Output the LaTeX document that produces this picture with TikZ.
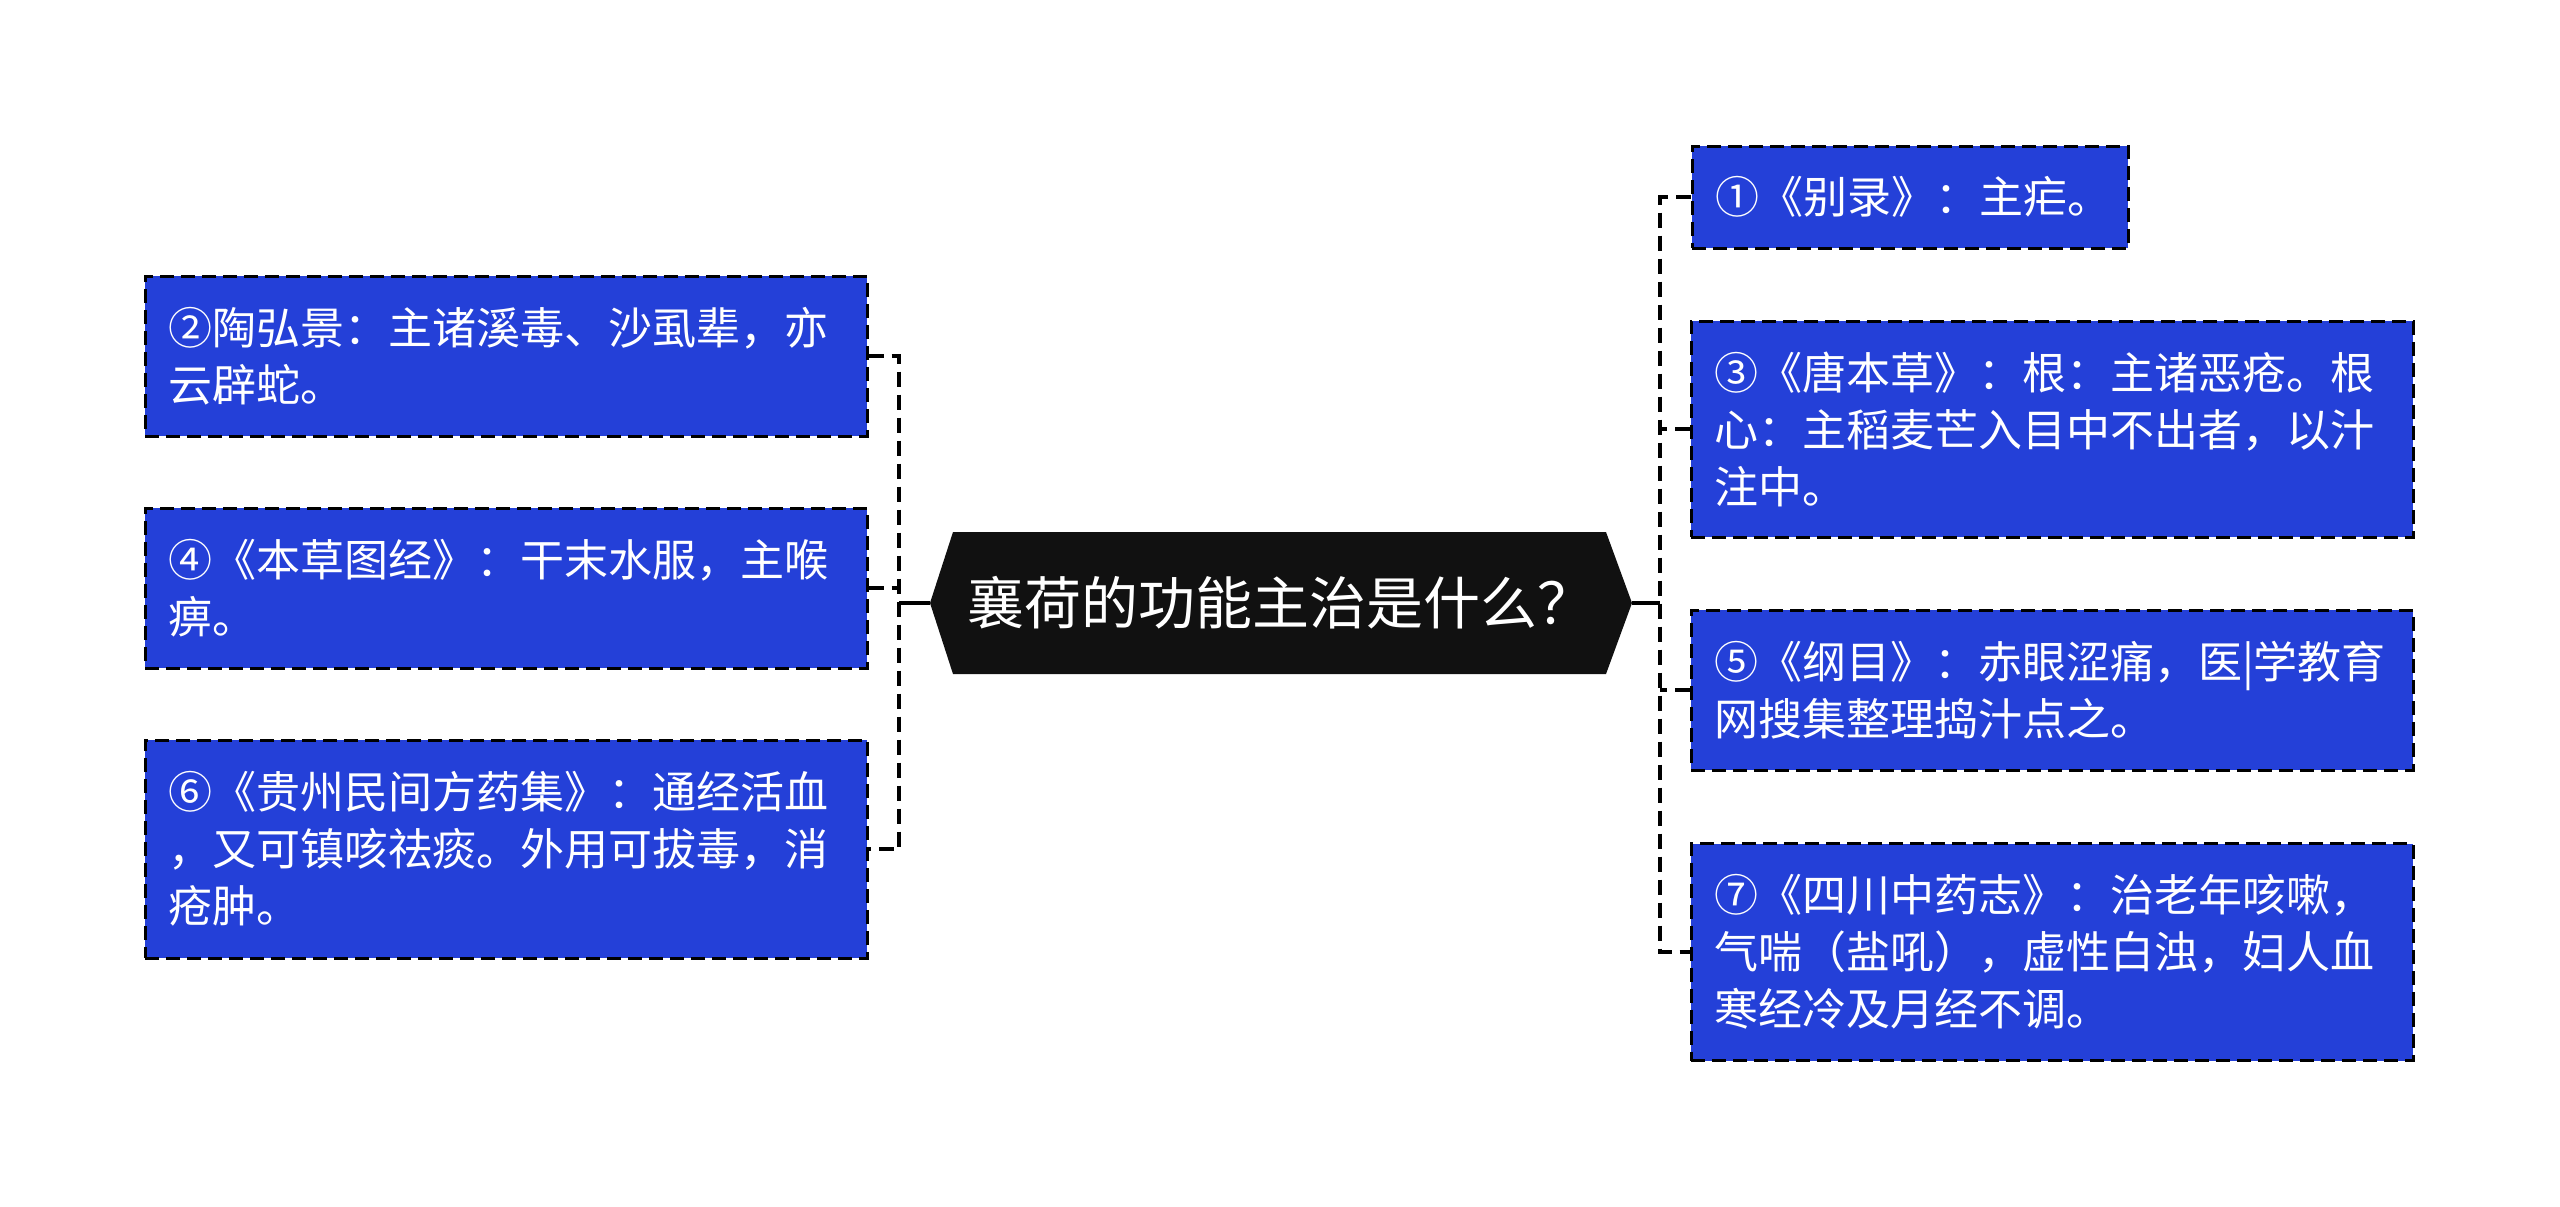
\documentclass[tikz,border=0pt]{standalone}
\usepackage{fontspec}
\setmainfont{Noto Sans CJK SC}
\definecolor{boxblue}{RGB}{36,64,216}
\definecolor{hexblack}{RGB}{17,17,17}
\begin{document}
\begin{tikzpicture}[x=1pt,y=-1pt,
  leaf/.style={rectangle, fill=boxblue, draw=black, line width=3pt,
    dash pattern=on 14pt off 7pt, text=white,
    font=\fontsize{44}{57}\selectfont, align=left,
    inner xsep=23pt, inner ysep=0pt, text width=676pt},
  link/.style={draw=black, line width=3.5pt, dash pattern=on 15pt off 8pt},
  stem/.style={draw=black, line width=3.5pt}]
\useasboundingbox (0,0) rectangle (2560,1207);
\fill[white] (0,0) rectangle (2560,1207);

% central topic
\coordinate (cl) at (930,603);
\coordinate (cr) at (1632,603);
\fill[hexblack] (cl) -- (953,532) -- (1606,532) -- (cr) -- (1606,674) -- (953,674) -- cycle;
\node[text=white, font=\fontsize{57}{62}\selectfont] (c) at (1281,603) {襄荷的功能主治是什么？};

% left branches
\node[leaf, minimum height=160pt] (b2) at (506,356) {②陶弘景：主诸溪毒、沙虱辈，亦\\云辟蛇。};
\node[leaf, minimum height=160pt] (b4) at (506,588) {④《本草图经》：干末水服，主喉\\痹。};
\node[leaf, minimum height=218pt] (b6) at (506,849) {⑥《贵州民间方药集》：通经活血\\，又可镇咳祛痰。外用可拔毒，消\\疮肿。};

% right branches
\node[leaf, text width=390pt, minimum height=102pt] (b1) at (1910,197) {①《别录》：主疟。};
\node[leaf, minimum height=216pt] (b3) at (2052,429) {③《唐本草》：根：主诸恶疮。根\\心：主稻麦芒入目中不出者，以汁\\注中。};
\node[leaf, minimum height=160pt] (b5) at (2052,690) {⑤《纲目》：赤眼涩痛，医|学教育\\网搜集整理捣汁点之。};
\node[leaf, minimum height=217pt] (b7) at (2052,952) {⑦《四川中药志》：治老年咳嗽，\\气喘（盐吼），虚性白浊，妇人血\\寒经冷及月经不调。};

% connectors left
\coordinate (lv) at (899,603);
\draw[stem] (cl) -- (lv);
\draw[link] (b2.east) -- (b2.east -| lv) -- (b6.east -| lv) -- (b6.east);
\draw[link] (b4.east) -- (b4.east -| lv);

% connectors right
\coordinate (rv) at (1660,603);
\draw[stem] (cr) -- (rv);
\draw[link] (b1.west) -- (b1.west -| rv) -- (b7.west -| rv) -- (b7.west);
\draw[link] (b3.west) -- (b3.west -| rv);
\draw[link] (b5.west) -- (b5.west -| rv);
\end{tikzpicture}
\end{document}
